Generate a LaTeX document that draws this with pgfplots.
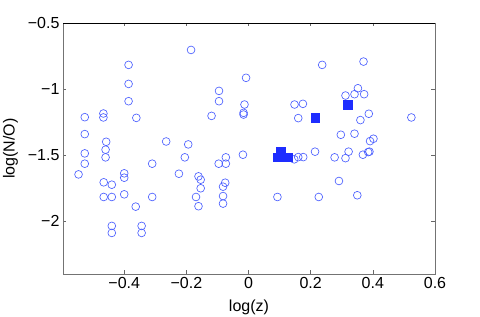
\documentclass[border=0pt]{standalone}
\usepackage{fontspec}
\setmainfont{Liberation Sans}
\usepackage{pgfplots}
\pgfplotsset{compat=1.18}
\definecolor{circ}{RGB}{75,95,255}
\definecolor{sq}{RGB}{30,45,255}
\begin{document}
\begin{tikzpicture}
\useasboundingbox (-63bp,-43bp) rectangle (417bp,274bp);
\begin{axis}[
  scale only axis, width=372bp, height=251bp,
  xmin=-0.597, xmax=0.6, ymin=-2.4, ymax=-0.5,
  xtick={-0.4,-0.2,0,0.2,0.4,0.6},
  xticklabels={−0.4,−0.2,0,0.2,0.4,0.6},
  ytick={-2,-1.5,-1,-0.5},
  yticklabels={−2,−1.5,−1,−0.5},
  tick align=inside, major tick length=3.5bp,
  tick style={black!60, line width=0.6bp},
  axis line style={black!55, line width=0.6bp},
  tick label style={font=\fontsize{16bp}{19bp}\selectfont, black},
  label style={font=\fontsize{16bp}{19bp}\selectfont, black},
  xlabel={log(z)}, ylabel={log(N/O)},
  xlabel style={yshift=-4bp},
  ylabel style={yshift=3bp},
  clip=false,
]
\addplot[only marks, mark=o, mark size=3.9bp, mark options={draw=circ, line width=0.65bp}] coordinates {
(-0.386,-0.817) (-0.386,-0.961) (-0.386,-1.092) (-0.527,-1.213) (-0.467,-1.185)
(-0.467,-1.215) (-0.361,-1.218) (-0.527,-1.341) (-0.458,-1.399) (-0.265,-1.397)
(-0.194,-1.419) (-0.185,-0.704) (-0.008,-0.915) (-0.095,-1.014) (-0.095,-1.092)
(-0.013,-1.117) (-0.016,-1.180) (-0.016,-1.193) (-0.119,-1.203) (0.148,-1.117)
(0.175,-1.112) (0.160,-1.220) (0.237,-0.817) (0.370,-0.792) (0.352,-0.994)
(0.312,-1.049) (0.341,-1.039) (0.372,-1.039) (0.387,-1.187) (0.360,-1.235)
(0.524,-1.215) (0.297,-1.346) (0.341,-1.338) (0.402,-1.376) (0.391,-1.394)
(-0.527,-1.487) (-0.527,-1.565) (-0.547,-1.646) (-0.460,-1.459) (-0.460,-1.517)
(-0.466,-1.706) (-0.440,-1.724) (-0.466,-1.817) (-0.440,-1.817) (-0.400,-1.638)
(-0.400,-1.671) (-0.400,-1.797) (-0.363,-1.890) (-0.440,-2.036) (-0.440,-2.089)
(-0.344,-2.036) (-0.344,-2.089) (-0.310,-1.565) (-0.310,-1.817) (-0.224,-1.641)
(-0.205,-1.517) (-0.073,-1.517) (-0.096,-1.565) (-0.073,-1.565) (-0.018,-1.497)
(-0.161,-1.661) (-0.154,-1.686) (-0.154,-1.751) (-0.169,-1.817) (-0.161,-1.887)
(-0.075,-1.709) (-0.082,-1.739) (-0.082,-1.810) (-0.082,-1.867) (0.093,-1.817)
(0.147,-1.532) (0.160,-1.515) (0.176,-1.515) (0.214,-1.474) (0.277,-1.517)
(0.312,-1.523) (0.322,-1.474) (0.368,-1.497) (0.385,-1.477) (0.389,-1.474)
(0.291,-1.696) (0.226,-1.817) (0.350,-1.804)
};
\addplot[only marks, mark=square*, mark size=4.3bp, mark options={draw=sq, fill=sq, line width=0.3bp}] coordinates {
(0.318,-1.117) (0.214,-1.215) (0.104,-1.472) (0.093,-1.517) (0.110,-1.517) (0.125,-1.517)
};
\draw[black, line width=0.6bp] (rel axis cs:0,1) -- (rel axis cs:1,1);
\end{axis}
\end{tikzpicture}
\end{document}
